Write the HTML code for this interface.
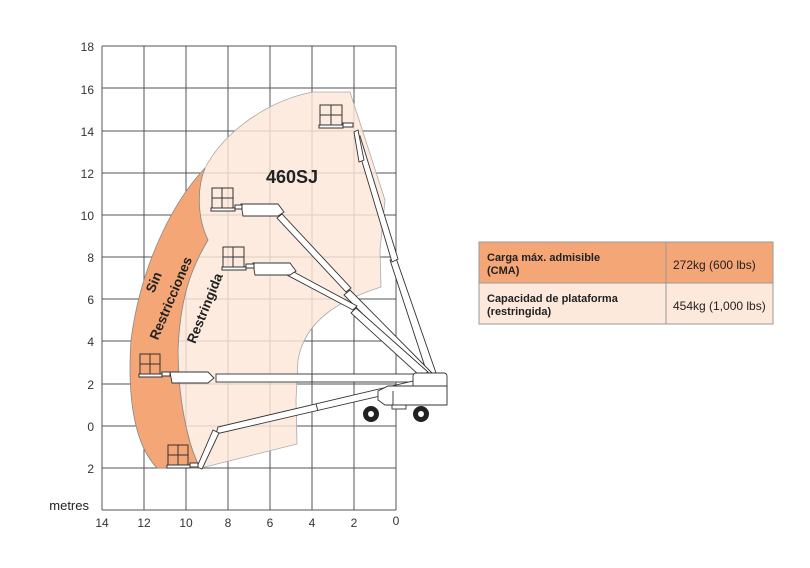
<!DOCTYPE html>
<html><head><meta charset="utf-8"><style>
body{margin:0;background:#fff;}
svg{display:block;font-family:"Liberation Sans",sans-serif;}
</style></head><body>
<svg width="810" height="568" viewBox="0 0 810 568">
<rect width="810" height="568" fill="#fff"/>
<g stroke="#555" stroke-width="1" fill="none">
<line x1="102" y1="46" x2="102" y2="510"/><line x1="144" y1="46" x2="144" y2="510"/><line x1="186" y1="46" x2="186" y2="510"/><line x1="228" y1="46" x2="228" y2="510"/><line x1="270" y1="46" x2="270" y2="510"/><line x1="312" y1="46" x2="312" y2="510"/><line x1="354" y1="46" x2="354" y2="510"/><line x1="396" y1="46" x2="396" y2="510"/>
<line x1="102" y1="46" x2="396" y2="46"/><line x1="102" y1="88" x2="396" y2="88"/><line x1="102" y1="131" x2="396" y2="131"/><line x1="102" y1="173" x2="396" y2="173"/><line x1="102" y1="215" x2="396" y2="215"/><line x1="102" y1="257" x2="396" y2="257"/><line x1="102" y1="299" x2="396" y2="299"/><line x1="102" y1="341" x2="396" y2="341"/><line x1="102" y1="384" x2="396" y2="384"/><line x1="102" y1="426" x2="396" y2="426"/><line x1="102" y1="468" x2="396" y2="468"/><line x1="102" y1="510" x2="396" y2="510"/>
</g>
<path d="M205,168 C225,130 270,100 313,92 L350,92 L385,200 L380,250 L381,287 C340,300 305,320 298,360 L296,400 L297,444 L201,468 L200,468 C188,445 178,400 178,350 C180,300 190,270 208,240 C198,220 196,190 205,168 Z" fill="#fde6d8" fill-opacity="0.82" stroke="#aaa" stroke-width="0.8"/>
<path d="M205,168 C170,205 140,270 131,340 C127,400 135,445 157,468 L200,468 C188,445 178,400 178,350 C180,300 190,270 208,240 C198,220 196,190 205,168 Z" fill="#f5a677" stroke="#888" stroke-width="0.8"/>
<g font-size="12" fill="#333" text-anchor="end">
<text x="94" y="51">18</text><text x="94" y="94">16</text><text x="94" y="136">14</text><text x="94" y="178">12</text><text x="94" y="220">10</text><text x="94" y="262">8</text><text x="94" y="304">6</text><text x="94" y="346">4</text><text x="94" y="389">2</text><text x="94" y="431">0</text><text x="94" y="473">2</text>
</g>
<g font-size="12" fill="#333" text-anchor="middle">
<text x="102" y="527">14</text><text x="144" y="527">12</text><text x="186" y="527">10</text><text x="228" y="527">8</text><text x="270" y="527">6</text><text x="312" y="527">4</text><text x="354" y="527">2</text><text x="396" y="525">0</text>
</g>
<text x="89" y="510" font-size="13" fill="#222" text-anchor="end">metres</text>
<text x="292" y="183" font-size="18" font-weight="bold" fill="#222" text-anchor="middle">460SJ</text>
<g font-size="13.5" font-weight="bold" fill="#222" text-anchor="middle">
<text transform="translate(158,284) rotate(-67)">Sin</text>
<text transform="translate(175,300) rotate(-67)">Restricciones</text>
<text transform="translate(209,310) rotate(-68)">Restringida</text>
</g>
<g stroke="#333" stroke-width="0.9" fill="#fff">
<polygon points="428,376 436,373 396,258 390,260"/>
<polygon points="392,262 398,259 360,136 355,138"/>
<polygon points="354,132 358,130 364,160 359,162"/>
<polygon points="424,376 432,373 350,290 344,295"/>
<polygon points="346,292 351,288 282,214 277,218"/>
<polygon points="420,376 428,372 356,308 351,313"/>
<polygon points="353,310 357,306 292,271 287,275"/>
<rect x="216" y="374" width="214" height="8"/>
<line x1="312" y1="374" x2="312" y2="382"/>
<polygon points="216,434 218,427 430,377 432,384"/>
<line x1="316" y1="404" x2="318" y2="411"/>
<polygon points="241,204 278,204 284,212 278,216 243,216"/>
<polygon points="253,263 290,263 296,271 290,275 255,275"/>
<polygon points="170,372 208,372 214,378 208,383 172,383"/>
<polygon points="213,430 219,433 202,469 197,467"/>
<rect x="413" y="373" width="34" height="32" rx="3"/>
<polygon points="378,391 388,386 447,386 447,405 385,405 378,400"/>
<line x1="393" y1="391" x2="393" y2="405"/>
<rect x="392" y="405" width="14" height="4"/>
</g>
<g stroke="#333" stroke-width="1" fill="#fff">
<rect x="320" y="105" width="22" height="20" fill="none"/><line x1="331" y1="105" x2="331" y2="125"/><line x1="320" y1="115" x2="342" y2="115"/><rect x="319" y="125" width="24" height="3"/><rect x="343" y="123" width="10" height="4"/>
<rect x="212" y="188" width="21" height="20" fill="none"/><line x1="222" y1="188" x2="222" y2="208"/><line x1="212" y1="198" x2="233" y2="198"/><rect x="211" y="208" width="24" height="3"/><rect x="235" y="205" width="7" height="4"/>
<rect x="223" y="247" width="21" height="20" fill="none"/><line x1="233" y1="247" x2="233" y2="267"/><line x1="223" y1="257" x2="244" y2="257"/><rect x="222" y="267" width="24" height="3"/><rect x="246" y="264" width="8" height="4"/>
<rect x="140" y="354" width="20" height="20" fill="none"/><line x1="150" y1="354" x2="150" y2="374"/><line x1="140" y1="364" x2="160" y2="364"/><rect x="139" y="374" width="23" height="3"/><rect x="162" y="372" width="8" height="4"/>
<rect x="168" y="445" width="20" height="20" fill="none"/><line x1="178" y1="445" x2="178" y2="465"/><line x1="168" y1="455" x2="188" y2="455"/><rect x="167" y="465" width="23" height="3"/><rect x="190" y="463" width="8" height="4"/>
</g>
<g fill="#222"><circle cx="371" cy="414" r="8"/><circle cx="421" cy="414" r="8"/></g>
<g fill="#fff"><circle cx="371" cy="414" r="3"/><circle cx="421" cy="414" r="3"/></g>
<rect x="479" y="242" width="294" height="41" fill="#f5a677"/>
<rect x="479" y="283" width="294" height="41" fill="#fde8dc"/>
<g stroke="#999" stroke-width="1" fill="none"><rect x="479" y="242" width="294" height="82"/><line x1="479" y1="283" x2="773" y2="283"/><line x1="666" y1="242" x2="666" y2="324"/></g>
<g font-size="11" fill="#222">
<text x="487" y="261" font-weight="bold">Carga máx. admisible</text><text x="487" y="274" font-weight="bold">(CMA)</text>
<text x="673" y="269" font-size="12">272kg (600 lbs)</text>
<text x="487" y="302" font-weight="bold">Capacidad de plataforma</text><text x="487" y="315" font-weight="bold">(restringida)</text>
<text x="673" y="310" font-size="12">454kg (1,000 lbs)</text>
</g>
</svg>
</body></html>
